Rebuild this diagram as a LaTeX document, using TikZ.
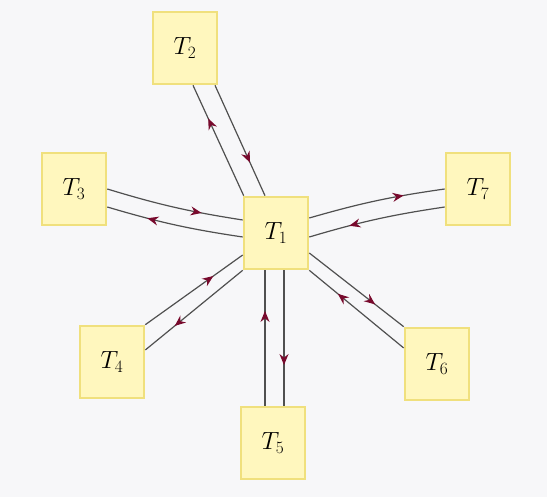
\documentclass[tikz,border=0pt]{standalone}
\usetikzlibrary{arrows.meta,decorations.markings}
\definecolor{bgc}{RGB}{247,247,249}
\definecolor{boxfill}{RGB}{255,247,190}
\definecolor{boxline}{RGB}{240,224,125}
\definecolor{linec}{RGB}{80,80,80}
\definecolor{tipc}{RGB}{120,10,45}
\tikzset{
  tbox/.style={draw=boxline, fill=boxfill, line width=2.6pt, minimum width=64pt, minimum height=72pt, inner sep=0pt,
    font=\fontsize{27}{32}\selectfont},
  flow/.style={draw=linec, line width=1.2pt,
    decoration={markings, mark=at position 0.7 with {\arrow[tipc]{Stealth[length=11pt,width=9pt]}}},
    postaction={decorate}}
}
\begin{document}
\begin{tikzpicture}[x=1pt,y=-1pt]
\fill[bgc] (0,0) rectangle (547,497);
\useasboundingbox (0,0) rectangle (547,497);
\node[tbox] (T1) at (276,233) {$T_1$};
\node[tbox] (T2) at (185,48) {$T_2$};
\node[tbox] (T3) at (74,189) {$T_3$};
\node[tbox] (T4) at (112,362) {$T_4$};
\node[tbox] (T5) at (273,443) {$T_5$};
\node[tbox] (T6) at (437,364) {$T_6$};
\node[tbox] (T7) at (478,189) {$T_7$};
% T1 - T2
\draw[flow] ([xshift=1pt]T1.north west) -- ([xshift=8pt]T2.south);
\draw[flow] ([xshift=30pt]T2.south) -- ([xshift=-11pt]T1.north);
% T1 - T3
\draw[flow] (T3.east) to[bend right=4] ([yshift=13pt]T1.west);
\draw[flow] ([yshift=-4pt]T1.west) to[bend left=4] ([yshift=-18pt]T3.east);
% T1 - T4
\draw[flow] (T4.north east) -- ([yshift=-22pt]T1.west);
\draw[flow] (T1.south west) -- ([yshift=12pt]T4.east);
% T1 - T5
\draw[flow] ([xshift=-8pt]T5.north) -- ([xshift=-11pt]T1.south);
\draw[flow] ([xshift=8pt]T1.south) -- ([xshift=11pt]T5.north);
% T1 - T6
\draw[flow] ([yshift=-20pt]T1.east) -- (T6.north west);
\draw[flow] ([yshift=16pt]T6.west) -- (T1.south east);
% T1 - T7
\draw[flow] ([yshift=15pt]T1.east) to[bend left=4] (T7.west);
\draw[flow] ([yshift=-18pt]T7.west) to[bend right=4] ([yshift=-4pt]T1.east);
\end{tikzpicture}
\end{document}
